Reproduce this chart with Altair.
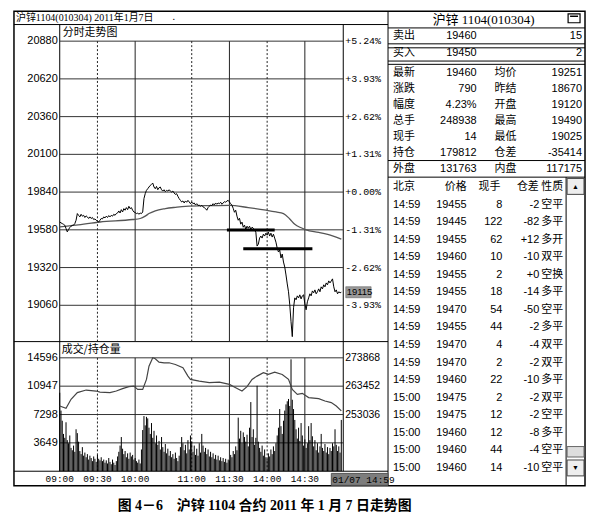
import altair as alt
import pandas as pd

# ---------------- data ----------------
price = [19634, 19628, 19623, 19618, 19612, 19589, 19566, 19582, 19596, 19605,
         19610, 19612, 19623, 19646, 19692, 19680, 19669, 19687, 19674, 19680,
         19665, 19676, 19669, 19658, 19669, 19658, 19665, 19651, 19655, 19646,
         19641, 19634, 19646, 19658, 19655, 19669, 19662, 19674, 19665, 19678,
         19669, 19680, 19674, 19687, 19680, 19692, 19696, 19710, 19696, 19719,
         19703, 19726, 19715, 19733, 19719, 19742, 19726, 19733, 19715, 19703,
         19699, 19692, 19696, 19687, 19696, 19692, 19703, 19795, 19829, 19852,
         19863, 19875, 19886, 19893, 19902, 19875, 19863, 19879, 19856, 19870,
         19875, 19856, 19847, 19856, 19843, 19852, 19847, 19856, 19847, 19840,
         19847, 19834, 19824, 19829, 19811, 19795, 19783, 19772, 19779, 19765,
         19779, 19770, 19783, 19772, 19760, 19772, 19760, 19765, 19751, 19760,
         19747, 19751, 19742, 19749, 19738, 19733, 19726, 19715, 19733, 19742,
         19751, 19747, 19760, 19751, 19765, 19756, 19765, 19760, 19770, 19756,
         19765, 19774, 19770, 19779, 19783, 19772, 19760, 19749, 19728, 19701,
         19715, 19674, 19646, 19660, 19619, 19633, 19598, 19612, 19584, 19605,
         19591, 19605, 19584, 19598, 19591, 19578, 19564, 19468, 19482, 19523,
         19537, 19523, 19550, 19537, 19557, 19543, 19564, 19537, 19557, 19530,
         19550, 19523, 19495, 19454, 19427, 19441, 19386, 19413, 19358, 19324,
         19269, 19207, 19153, 19063, 18947, 18844, 19043, 19111, 19098, 19125,
         19111, 19132, 19104, 19125, 19132, 19070, 19029, 19084, 19111, 19139,
         19125, 19159, 19146, 19166, 19139, 19153, 19173, 19153, 19187, 19173,
         19201, 19187, 19214, 19201, 19228, 19214, 19228, 19242, 19187, 19153,
         19166, 19139, 19153, 19146, 19150]

volume = [10100, 7800, 6500, 4800, 4300, 6300, 4000, 3600, 4600, 3000,
          2700, 3300, 2500, 5400, 4900, 3800, 2600, 2200, 3100, 2000,
          2400, 1800, 2200, 1500, 2000, 1700, 1300, 1900, 1600, 1200,
          2100, 1600, 1400, 1800, 1300, 1500, 1100, 1400, 1000, 1700,
          1200, 900, 1500, 1100, 800, 1300, 1900, 2500, 3300, 4400,
          2900, 2200, 2600, 1800, 2300, 1600, 2400, 1900, 2100, 1500,
          1700, 1300, 1100, 1500, 1000, 2800, 5300, 7100, 5900, 7000,
          6800, 5600, 4800, 6200, 4300, 5200, 3600, 4600, 3400, 3900,
          2800, 4400, 3100, 2500, 3500, 2300, 2900, 2000, 2600, 1800,
          2200, 1600, 2400, 1700, 1300, 2000, 3100, 4400, 3600, 2700,
          3400, 2300, 4000, 2800, 4600, 3800, 2500, 3300, 2100, 2900,
          2000, 3600, 2400, 4800, 3300, 2500, 3000, 2200, 2800, 1900,
          2500, 1800, 2300, 1600, 2100, 1500, 2000, 1400, 1800, 1300,
          1700, 1200, 1600, 1100, 1500, 1400, 2100, 1800, 2600, 2200,
          3200, 2700, 6900, 4200, 5200, 3600, 5000, 4400, 3800, 4700,
          3200, 5600, 8900, 4400, 5400, 3400, 4300, 11000, 3800, 3000,
          2500, 3300, 2000, 2800, 1800, 1600, 2300, 1900, 2800, 2200,
          3200, 2600, 3600, 4600, 5600, 8000, 5800, 4800, 6500, 7800,
          8600, 9000, 9300, 8400, 14400, 9200, 8000, 6600, 5400, 4200,
          5600, 3900, 6200, 4600, 3300, 4100, 3000, 3600, 5800, 4000,
          6200, 4500, 3200, 4000, 2700, 3600, 2400, 3200, 4800, 3000,
          2600, 3500, 2400, 3100, 2200, 3000, 2600, 3600, 3200, 5400,
          3400, 2600, 3200, 2400, 6600]

avg_m = [0, 13, 32, 58, 64, 68, 71, 76, 84, 92, 100, 120, 135, 150, 164, 172,
         178, 183, 187, 192, 196, 206, 217, 224]
avg_p = [19600, 19612, 19634, 19651, 19658, 19674, 19692, 19711, 19726, 19735,
         19742, 19747, 19749, 19733, 19715, 19703, 19692, 19655, 19618, 19594,
         19580, 19562, 19538, 19516]

oi_m = [0, 5, 9, 14, 21, 29, 32, 40, 45, 50, 55, 59, 62, 66, 69, 71, 74, 76,
        79, 83, 87, 92, 98, 102, 104, 111, 119, 127, 135, 140, 145, 149, 153,
        157, 162, 166, 171, 177, 182, 185, 189, 193, 198, 206, 211, 216, 220, 224]
oi_v = [256179, 255338, 258628, 261076, 262027, 261661, 261296, 261076, 261661,
        262538, 263269, 263488, 262282, 262282, 265937, 270798, 273868, 273502,
        272260, 272041, 272041, 271419, 270213, 267143, 265937, 265316, 264731,
        264950, 264110, 262904, 261661, 263269, 265937, 267143, 268386, 267764,
        268605, 267764, 265937, 262282, 260455, 260821, 259249, 258884, 258007,
        257422, 256179, 254352]

# support / resistance marks drawn on the chart
ann_m1 = [133, 146]
ann_m2 = [171, 201]
ann_p = [19578, 19449]

price_ticks = [20880, 20620, 20360, 20100, 19840, 19580, 19320, 19060]
pct_labels = ['+5.24%', '+3.93%', '+2.62%', '+1.31%', '+0.00%', '-1.31%',
              '-2.62%', '-3.93%']
vol_ticks = [14596, 10947, 7298, 3649]
oi_ticks = [273868, 263452, 253036]

tick_m = [0, 30, 60, 105, 135, 165, 195]
tick_lab = ['09:00', '09:30', '10:00', '11:00', '11:30', '14:00', '14:30']
tick_style = ['none', 'dot', 'solid', 'dot', 'solid', 'dot', 'solid']

quote_l = ['卖出', '买入']
quote_p = ['19460', '19450']
quote_q = ['15', '2']

info_l1 = ['最新', '涨跌', '幅度', '总手', '现手', '持仓', '外盘']
info_v1 = ['19460', '790', '4.23%', '248938', '14', '179812', '131763']
info_l2 = ['均价', '昨结', '开盘', '最高', '最低', '仓差', '内盘']
info_v2 = ['19251', '18670', '19120', '19490', '19025', '-35414', '117175']

tr_head = ['北京', '价格', '现手', '仓差', '性质']
tr_time = ['14:59'] * 11 + ['15:00'] * 5
tr_price = ['19455', '19445', '19455', '19460', '19455', '19455', '19470', '19455',
            '19470', '19470', '19460', '19475', '19475', '19460', '19460', '19460']
tr_qty = ['8', '122', '62', '10', '2', '18', '54', '44', '4', '2', '22', '2',
          '12', '12', '44', '14']
tr_oi = ['-2', '-82', '+12', '-10', '+0', '-14', '-50', '-2', '-4', '-2', '-10',
         '-2', '-2', '-8', '-4', '-10']
tr_type = ['空平', '多平', '多开', '双平', '空换', '多平', '空平', '多平', '双平',
           '双平', '多平', '双平', '空平', '多平', '空平', '空平']

header_text = '沪锌1104(010304) 2011年1月7日'
panel_title = '沪锌 1104(010304)'
price_title = '分时走势图'
vol_title = '成交/持仓量'
last_label = '19115'
time_box = '01/07 14:59'
caption = '图 4－6　沪锌 1104 合约 2011 年 1 月 7 日走势图'

# ---------------- layout ----------------
OX, OY = 8, 8
W, H = 582, 512


def px(x):
    return x - OX


def py(y):
    return y - OY


def xdom(v1, p1, v2, p2):
    p1, p2 = px(p1), px(p2)
    s = (p2 - p1) / (v2 - v1)
    return [v1 + (0 - p1) / s, v1 + (W - p1) / s]


def ydom(v1, p1, v2, p2):
    p1, p2 = py(p1), py(p2)
    s = (p2 - p1) / (v2 - v1)
    return [v1 + (H - p1) / s, v1 + (0 - p1) / s]


def sc(dom):
    return alt.Scale(domain=dom, nice=False, zero=False)


TIME = sc(xdom(0, 60, 225, 344.3))
PRICE = sc(ydom(20880, 40, 19060, 305.5))
VOL = sc(ydom(0, 472.3, 14596, 358.3))
OI = sc(ydom(253036, 415.3, 273868, 358.3))
QROW = sc(ydom(0, 35, 1, 52))
IROW = sc(ydom(0, 71.7, 6, 168.3))
TROW = sc(ydom(0, 204.3, 15, 469))

SANS = 'Liberation Sans, Arial, sans-serif'
MONO = 'Liberation Mono, monospace'
CJK = 'Noto Sans CJK SC'
SERIF = 'Liberation Serif, Noto Sans CJK SC'

ONE = pd.DataFrame({'k': [0]})
layers = []


def rule(x1, y1, x2, y2, color='black', sw=1, dash=None):
    kw = dict(color=color, strokeWidth=sw)
    if dash:
        kw['strokeDash'] = dash
    return alt.Chart(ONE).mark_rule(**kw).encode(
        x=alt.value(px(x1)), x2=alt.value(px(x2)),
        y=alt.value(py(y1)), y2=alt.value(py(y2)))


def box(x1, y1, x2, y2, fill='white', stroke='black', sw=1):
    return alt.Chart(ONE).mark_rect(fill=fill, stroke=stroke, strokeWidth=sw).encode(
        x=alt.value(px(x1)), x2=alt.value(px(x2)),
        y=alt.value(py(y1)), y2=alt.value(py(y2)))


def label(txt, x, y, align='left', font=SANS, size=11, weight='normal', color='black'):
    return alt.Chart(ONE).mark_text(align=align, baseline='middle', font=font,
                                    fontSize=size, fontWeight=weight, color=color).encode(
        x=alt.value(px(x)), y=alt.value(py(y)), text=alt.value(txt))


def col(df, field, rowscale, x, align, font=SANS, size=11):
    return alt.Chart(df).mark_text(align=align, baseline='middle', font=font,
                                   fontSize=size, color='black').encode(
        x=alt.value(px(x)),
        y=alt.Y('row:Q', scale=rowscale, axis=None),
        text=alt.Text(f'{field}:N'))


# ---------- frames ----------
layers.append(box(14, 10, 588, 487, fill='white', stroke='black', sw=1.5))
layers.append(rule(390, 10, 390, 487))
layers.append(rule(14, 23.3, 390, 23.3))
layers.append(rule(60, 23.3, 60, 472.3))
layers.append(rule(345, 23.3, 345, 472.3))
layers.append(rule(14, 342, 390, 342))
layers.append(rule(14, 472.3, 390, 472.3))
# right panel
for yy in [26.7, 42.7, 46.7, 60, 63.3, 160, 176.7]:
    layers.append(rule(390, yy, 588, yy))
layers.append(rule(569, 176.7, 569, 487))

# ---------- grids ----------
pt = pd.DataFrame({'p': price_ticks, 'lab': pct_labels})
layers.append(alt.Chart(pt).mark_rule(color='#333', strokeWidth=1).encode(
    y=alt.Y('p:Q', scale=PRICE, axis=None), x=alt.value(px(60)), x2=alt.value(px(345))))
vt = pd.DataFrame({'v': vol_ticks})
layers.append(alt.Chart(vt).mark_rule(color='#333', strokeWidth=1).encode(
    y=alt.Y('v:Q', scale=VOL, axis=None), x=alt.value(px(60)), x2=alt.value(px(345))))

tk = pd.DataFrame({'m': tick_m, 'lab': tick_lab, 'st': tick_style})
for st, dash in [('solid', None), ('dot', [2, 2])]:
    d = tk[tk.st == st]
    for (y1, y2) in [(40, 342), (358.3, 472.3)]:
        kw = dict(color='#222', strokeWidth=1)
        if dash:
            kw['strokeDash'] = dash
        layers.append(alt.Chart(d).mark_rule(**kw).encode(
            x=alt.X('m:Q', scale=TIME, axis=None),
            y=alt.value(py(y1)), y2=alt.value(py(y2))))

# ---------- data ----------
vol_df = pd.DataFrame({'m': list(range(len(volume))), 'vol': volume})
layers.append(alt.Chart(vol_df).mark_rule(color='black', strokeWidth=1).encode(
    x=alt.X('m:Q', scale=TIME, axis=None),
    y=alt.Y('vol:Q', scale=VOL, axis=None), y2=alt.datum(0)))

oi_df = pd.DataFrame({'m': oi_m, 'oi': oi_v})
layers.append(alt.Chart(oi_df).mark_line(color='#444', strokeWidth=1.2).encode(
    x=alt.X('m:Q', scale=TIME, axis=None), y=alt.Y('oi:Q', scale=OI, axis=None)))

avg_df = pd.DataFrame({'m': avg_m, 'p': avg_p})
layers.append(alt.Chart(avg_df).mark_line(color='#555', strokeWidth=1.3, interpolate='monotone').encode(
    x=alt.X('m:Q', scale=TIME, axis=None), y=alt.Y('p:Q', scale=PRICE, axis=None)))

pr_df = pd.DataFrame({'m': list(range(len(price))), 'p': price})
layers.append(alt.Chart(pr_df).mark_line(color='black', strokeWidth=1).encode(
    x=alt.X('m:Q', scale=TIME, axis=None), y=alt.Y('p:Q', scale=PRICE, axis=None)))

ann = pd.DataFrame({'m1': ann_m1, 'm2': ann_m2, 'p': ann_p})
layers.append(alt.Chart(ann).mark_rule(color='black', strokeWidth=3).encode(
    x=alt.X('m1:Q', scale=TIME, axis=None), x2='m2:Q',
    y=alt.Y('p:Q', scale=PRICE, axis=None)))

# ---------- axis labels ----------
layers.append(alt.Chart(pt).mark_text(align='right', baseline='middle', font=SANS, fontSize=11).encode(
    x=alt.value(px(58)), y=alt.Y('p:Q', scale=PRICE, axis=None), text=alt.Text('p:Q', format='d')))
layers.append(alt.Chart(pt).mark_text(align='left', baseline='middle', font=MONO, fontSize=10).encode(
    x=alt.value(px(347)), y=alt.Y('p:Q', scale=PRICE, axis=None), text='lab:N'))
layers.append(alt.Chart(vt).mark_text(align='right', baseline='middle', font=SANS, fontSize=11).encode(
    x=alt.value(px(58)), y=alt.Y('v:Q', scale=VOL, axis=None), text=alt.Text('v:Q', format='d')))
ot = pd.DataFrame({'o': oi_ticks})
layers.append(alt.Chart(ot).mark_text(align='left', baseline='middle', font=SANS, fontSize=10.5).encode(
    x=alt.value(px(347)), y=alt.Y('o:Q', scale=OI, axis=None), text=alt.Text('o:Q', format='d')))
layers.append(alt.Chart(tk).mark_text(align='center', baseline='middle', font=MONO, fontSize=9.5).encode(
    x=alt.X('m:Q', scale=TIME, axis=None), y=alt.value(py(480)), text='lab:N'))

# last price tag (grey box around the last price level)
last_df = pd.DataFrame({'p': [price[-1]], 't': [last_label]})
layers.append(alt.Chart(last_df).transform_calculate(
    lo='datum.p - 38', hi='datum.p + 38'
).mark_rect(fill='#9a9a9a', stroke='#555', strokeWidth=0.5).encode(
    x=alt.value(px(347.5)), x2=alt.value(px(373)),
    y=alt.Y('lo:Q', scale=PRICE, axis=None), y2='hi:Q'))
layers.append(alt.Chart(last_df).mark_text(align='left', baseline='middle', font=SANS, fontSize=9.5,
                                           color='black').encode(
    x=alt.value(px(348.5)), y=alt.Y('p:Q', scale=PRICE, axis=None), text='t:N'))

# time box
layers.append(box(333, 474.5, 390, 486.5, fill='#7d7d7d', stroke='#555'))
layers.append(label(time_box, 334, 480.7, font=MONO, size=9.5))

# titles
layers.append(label(header_text, 16, 16.8, font=SERIF, size=10))
layers.append(label('.', 173, 16, font=SANS, size=11))
layers.append(label(price_title, 63, 31.5, font=CJK, size=11))
layers.append(label(vol_title, 62, 350, font=CJK, size=11))

# right panel header
layers.append(label(panel_title, 486, 18.5, align='center', font=SERIF, size=13))
layers.append(box(571, 12.5, 583, 21.5, fill='white', stroke='black', sw=1.2))
layers.append(rule(573, 15, 581, 15, sw=1.5))

qdf = pd.DataFrame({'row': [0, 1], 'l': quote_l, 'p': quote_p, 'q': quote_q})
layers.append(col(qdf, 'l', QROW, 395, 'left', font=CJK, size=11))
layers.append(col(qdf, 'p', QROW, 479, 'right', size=11))
layers.append(col(qdf, 'q', QROW, 585, 'right', size=11))

idf = pd.DataFrame({'row': list(range(len(info_l1))), 'l1': info_l1, 'v1': info_v1,
                    'l2': info_l2, 'v2': info_v2})
layers.append(col(idf, 'l1', IROW, 395, 'left', font=CJK, size=11))
layers.append(col(idf, 'v1', IROW, 479, 'right', size=11))
layers.append(col(idf, 'l2', IROW, 497, 'left', font=CJK, size=11))
layers.append(col(idf, 'v2', IROW, 585, 'right', size=11))

hdf = pd.DataFrame({'row': [-1], 'a': [tr_head[0]], 'b': [tr_head[1]], 'c': [tr_head[2]],
                    'd': [tr_head[3]], 'e': [tr_head[4]]})
layers.append(col(hdf, 'a', TROW, 395, 'left', font=CJK, size=11))
layers.append(col(hdf, 'b', TROW, 469, 'right', font=CJK, size=11))
layers.append(col(hdf, 'c', TROW, 503, 'right', font=CJK, size=11))
layers.append(col(hdf, 'd', TROW, 541.5, 'right', font=CJK, size=11))
layers.append(col(hdf, 'e', TROW, 544, 'left', font=CJK, size=11))

tdf = pd.DataFrame({'row': list(range(len(tr_time))), 't': tr_time, 'p': tr_price,
                    'q': tr_qty, 'o': tr_oi, 'k': tr_type})
layers.append(col(tdf, 't', TROW, 395, 'left', size=11))
layers.append(col(tdf, 'p', TROW, 469, 'right', size=11))
layers.append(col(tdf, 'q', TROW, 505, 'right', size=11))
layers.append(col(tdf, 'o', TROW, 542, 'right', size=11))
layers.append(col(tdf, 'k', TROW, 544, 'left', font=CJK, size=11))

# scrollbar
layers.append(box(570, 178, 587, 194, fill='#eeeeee', stroke='#444'))
layers.append(label('▲', 578.5, 186.5, align='center', size=7))
layers.append(box(570, 447.5, 587, 458, fill='#dddddd', stroke='#666'))
layers.append(box(570, 461, 587, 477, fill='#eeeeee', stroke='#444'))
layers.append(label('▼', 578.5, 469.5, align='center', size=7))

# caption
layers.append(label(caption, 266, 507, align='center', font=SERIF, size=14, weight='bold'))

chart = alt.layer(*layers).resolve_scale(x='independent', y='independent').properties(
    width=W, height=H, padding=0, autosize=alt.AutoSizeParams(type='none')
).configure_view(stroke=None)

chart.save('out.html', embed_options={'renderer': 'svg', 'actions': False})
